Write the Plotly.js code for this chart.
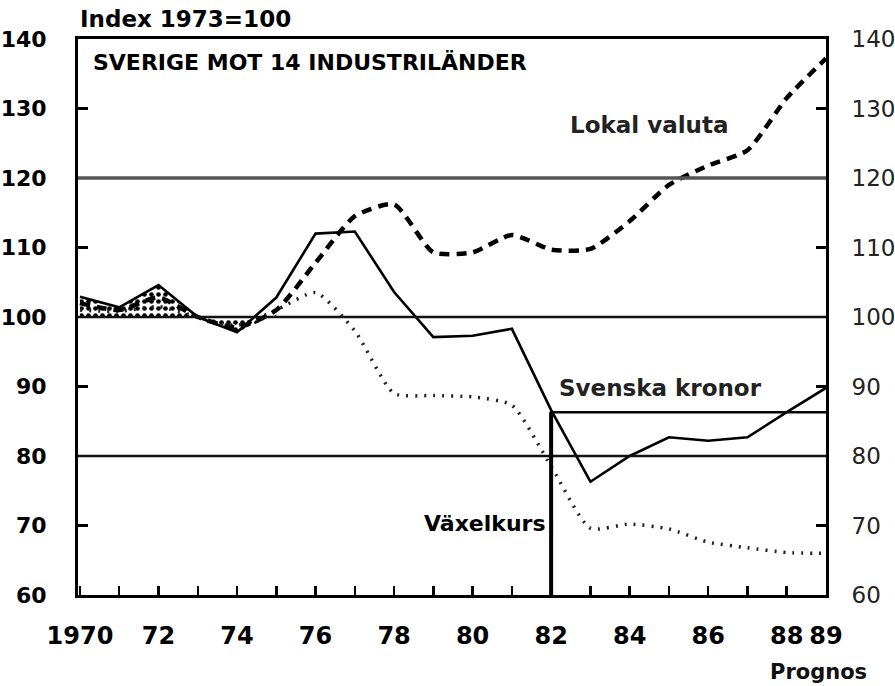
<!DOCTYPE html>
<html>
<head>
<meta charset="utf-8">
<script src="https://cdn.plot.ly/plotly-3.0.1.min.js"></script>
<style>html,body{margin:0;padding:0;background:#fff;}#chart{width:895px;height:686px;}</style>
</head>
<body>
<div id="chart"></div>
<script>
// ---- data ----
var years = [1970,1971,1972,1973,1974,1975,1976,1977,1978,1979,1980,1981,1982,1983,1984,1985,1986,1987,1988,1989];
var svenskaKronor = [102.9,101.4,104.6,100.0,97.8,102.8,112.0,112.3,103.6,97.1,97.3,98.3,86.6,76.3,80.0,82.7,82.2,82.7,86.3,89.8];
var lokalValuta   = [102.0,101.0,102.8,100.0,98.5,101.0,107.8,114.5,116.2,109.3,109.3,111.8,109.7,109.8,113.8,119.0,121.8,124.0,131.5,137.2];
var vaxelkurs     = [101.0,100.8,101.5,100.0,98.8,101.0,103.5,98.0,89.0,88.7,88.5,87.3,78.5,69.6,70.2,69.5,67.6,66.8,66.1,66.0];

var stippleYears = [1970,1971,1972,1973,1974,1975];
var stippleBase  = [100,100,100,100,100,100];
var stippleTop   = [102.9,101.4,104.6,100.0,97.8,100.4];

var devalYear = [1982,1982,1989];        // Växelkurs marker line and Svenska kronor level
var devalLevel = [60,86.3,86.3];

var gridLevels = [120,100,80];
var yTicks = [60,70,80,90,100,110,120,130,140];
var xTicks = years;
var xTickText = ["1970","","72","","74","","76","","78","","80","","82","","84","","86","","88","89"];

var FONT = "DejaVu Sans";

var traces = [
  {x: stippleYears, y: stippleBase, mode:'lines', line:{width:0, color:'rgba(0,0,0,0)'}, hoverinfo:'skip', showlegend:false},
  {x: stippleYears, y: stippleTop, mode:'lines', line:{width:0, color:'rgba(0,0,0,0)'}, fill:'tonexty',
   fillcolor:'rgba(255,255,255,0)',
   fillpattern:{shape:'.', fgcolor:'#000', bgcolor:'rgba(255,255,255,0)', size:7, solidity:0.35},
   hoverinfo:'skip', showlegend:false},
  {x: years, y: vaxelkurs, mode:'lines', name:'Växelkurs',
   line:{color:'#222', width:3.5, dash:'2px,7px', shape:'spline', smoothing:0.6}},
  {x: years, y: lokalValuta, mode:'lines', name:'Lokal valuta',
   line:{color:'#000', width:4.5, dash:'10px,7px', shape:'spline', smoothing:0.6}},
  {x: years, y: svenskaKronor, mode:'lines', name:'Svenska kronor',
   line:{color:'#000', width:2.6}},
  {x: devalYear, y: devalLevel, mode:'lines', yaxis:'y2', showlegend:false,
   line:{color:'#000', width:2.6}}
];

var shapes = gridLevels.map(function(v, i){
  return {type:'line', xref:'paper', yref:'y', x0:0, x1:1, y0:v, y1:v,
          line:{color: i===0 ? '#555' : '#111', width: i===0 ? 3.5 : 2.5}};
});
// thicker Växelkurs vertical bar
shapes.push({type:'line', xref:'x', yref:'y', x0:devalYear[0], x1:devalYear[1], y0:devalLevel[0], y1:devalLevel[1],
             line:{color:'#000', width:4}});

var layout = {
  width:895, height:686,
  margin:{l:78, r:69, t:39, b:91},
  paper_bgcolor:'#fff', plot_bgcolor:'#fff',
  showlegend:false,
  xaxis:{range:[1969.95,1989.0], tickvals:xTicks, ticktext:xTickText, ticks:'inside', ticklen:9, tickwidth:2.5,
         tickcolor:'#000', showline:true, linecolor:'#000', linewidth:3, mirror:true, showgrid:false, zeroline:false,
         ticklabelstandoff:17, tickfont:{family:FONT, size:24, weight:'bold', color:'#000'}},
  yaxis:{range:[60,140], tickvals:yTicks, ticks:'inside', ticklen:10, tickwidth:2.5, tickcolor:'#000',
         showline:true, linecolor:'#000', linewidth:3, showgrid:false, zeroline:false,
         ticklabelstandoff:24, tickfont:{family:FONT, size:22, weight:'bold', color:'#000'}},
  yaxis2:{range:[60,140], tickvals:yTicks, overlaying:'y', side:'right', ticks:'inside', ticklen:10, tickwidth:2.5,
          tickcolor:'#000', showline:true, linecolor:'#000', linewidth:3, showgrid:false, zeroline:false,
          ticklabelstandoff:18, tickfont:{family:FONT, size:23, color:'#222'}},
  shapes: shapes,
  annotations:[
    {text:'Index 1973=100', xref:'paper', yref:'paper', x:0.0, y:1.036, xanchor:'left', yanchor:'middle',
     showarrow:false, font:{family:FONT, size:23, weight:'bold', color:'#000'}},
    {text:'SVERIGE MOT 14 INDUSTRILÄNDER', xref:'paper', yref:'paper', x:0.018, y:0.957, xanchor:'left', yanchor:'middle',
     showarrow:false, font:{family:FONT, size:22, weight:'bold', color:'#000'}},
    {text:'Lokal valuta', xref:'paper', yref:'paper', x:0.655, y:0.845, xanchor:'left', yanchor:'middle',
     showarrow:false, font:{family:FONT, size:23, weight:'bold', color:'#222'}},
    {text:'Svenska kronor', xref:'paper', yref:'paper', x:0.64, y:0.372, xanchor:'left', yanchor:'middle',
     showarrow:false, font:{family:FONT, size:23, weight:'bold', color:'#222'}},
    {text:'Växelkurs', xref:'paper', yref:'paper', x:0.628, y:0.129, xanchor:'right', yanchor:'middle',
     showarrow:false, font:{family:FONT, size:22, weight:'bold', color:'#000'}},
    {text:'Prognos', xref:'paper', yref:'paper', x:0.922, y:-0.138, xanchor:'left', yanchor:'middle',
     showarrow:false, font:{family:FONT, size:21, weight:'bold', color:'#111'}}
  ]
};

Plotly.newPlot('chart', traces, layout, {displayModeBar:false, staticPlot:true});
</script>
</body>
</html>
